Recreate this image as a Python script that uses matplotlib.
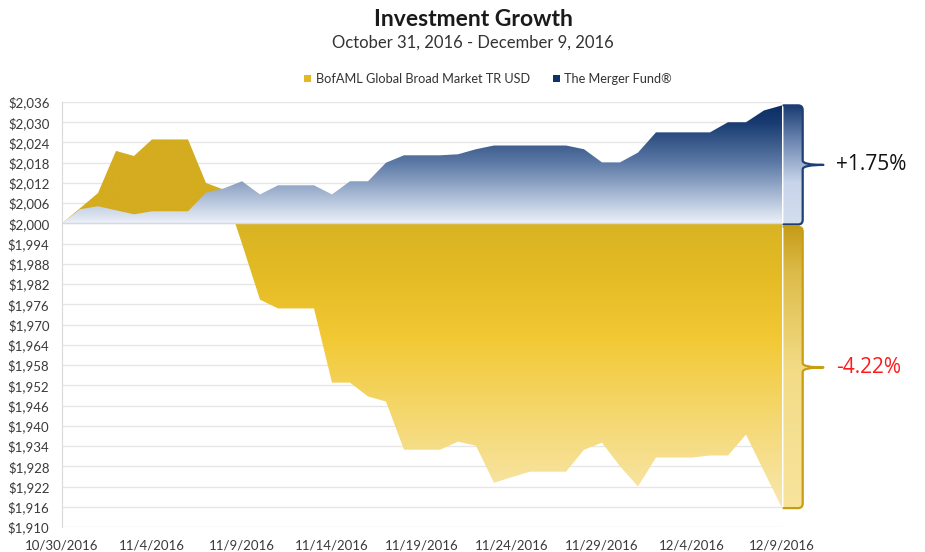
import numpy as np
import pandas as pd
import matplotlib
matplotlib.use('Agg')
import matplotlib.pyplot as plt
import matplotlib.dates as mdates
from matplotlib.path import Path
from matplotlib.patches import PathPatch, Patch
from matplotlib.colors import to_rgb

plt.rcParams['font.family'] = ['Lato', 'DejaVu Sans']

# daily values of a $2,000 investment
dates = pd.date_range('2016-10-30', '2016-12-09', freq='D')
bofaml = [2000, 2004.5, 2009, 2021.5, 2020, 2024.9, 2024.9, 2024.9, 2012, 2010,
          1994, 1977.4, 1974.8, 1974.8, 1974.8, 1952.8, 1952.8, 1948.7, 1947.2, 1932.9,
          1932.9, 1932.9, 1935.3, 1934.1, 1923.1, 1924.8, 1926.4, 1926.4, 1926.4, 1932.9,
          1935.0, 1928.0, 1922.0, 1930.6, 1930.6, 1930.6, 1931.2, 1931.2, 1937.4, 1926.5,
          1915.6]
merger = [2000, 2004.2, 2005.1, 2003.9, 2002.7, 2003.6, 2003.6, 2003.6, 2009.1, 2010.4,
          2012.5, 2008.6, 2011.3, 2011.3, 2011.3, 2008.6, 2012.5, 2012.5, 2018.0, 2020.2,
          2020.2, 2020.2, 2020.5, 2022.0, 2023.1, 2023.1, 2023.1, 2023.1, 2023.1, 2022.0,
          2018.1, 2018.1, 2021.0, 2027.0, 2027.0, 2027.0, 2027.0, 2030.0, 2030.0, 2033.5,
          2035.0]
series_names = ['BofAML Global Broad Market TR USD', 'The Merger Fund®']
start_value = 2000
y_ticks = np.arange(1910, 2037, 6)
x_tick_dates = dates[::5]

gold_stops = [(1910, '#F9EBB8'), (1916, '#F8E7AE'), (1940, '#F5D977'), (1966, '#F2C934'),
              (1985, '#E4BB25'), (2000, '#D8B322'), (2000.01, '#D4AC1F'), (2036, '#D4AC1F')]
blue_stops = [(2000, '#EEF2F9'), (2006, '#BCCAE0'), (2018, '#5D7AA6'), (2030, '#183B71'),
              (2036, '#0B2C63')]
gold_brace_stops = [(1910, '#F8E5A0'), (1957, '#F3DB86'), (1985, '#DDBC4A'), (2000, '#C49A14')]
blue_brace_stops = [(1999, '#D4DEEE'), (2012, '#C8D4EA'), (2024, '#6E88B2'), (2036, '#0F3269')]


def gradient(stops, ylo, yhi, n=500):
    ys = np.linspace(yhi, ylo, n)
    vals = [s[0] for s in stops]
    cols = np.array([to_rgb(s[1]) for s in stops])
    img = np.stack([np.interp(ys, vals, cols[:, k]) for k in range(3)], axis=-1)
    return img[:, None, :]


def gradient_area(ax, x, y, base, stops, ylim, z):
    verts = list(zip(x, y)) + [(x[-1], base), (x[0], base)]
    patch = PathPatch(Path(verts), facecolor='none', edgecolor='none')
    ax.add_patch(patch)
    im = ax.imshow(gradient(stops, *ylim), extent=[x[0], x[-1], ylim[0], ylim[1]],
                   aspect='auto', origin='upper', zorder=z, interpolation='bilinear')
    im.set_clip_path(patch)


fig = plt.figure(figsize=(9.25, 5.52), dpi=100)
L, B, W, H = 62 / 925, 25 / 552, 720 / 925, 425 / 552
ax = fig.add_axes([L, B, W, H])

x = mdates.date2num(dates)
ylim = (1910, 2036)
ax.set_xlim(x[0], x[-1])
ax.set_ylim(*ylim)

gradient_area(ax, x, bofaml, start_value, gold_stops, ylim, 2)
gradient_area(ax, x, merger, start_value, blue_stops, ylim, 3)
ax.axhline(start_value, color='#D5DAE2', lw=1, zorder=4)

ax.set_yticks(y_ticks)
ax.set_yticklabels([f'${v:,.0f}' for v in y_ticks])
ax.set_xticks(mdates.date2num(x_tick_dates))
ax.set_xticklabels([f'{d.month}/{d.day}/{d.year}' for d in x_tick_dates])
ax.grid(axis='y', color='#E6E6E6', lw=1)
ax.set_axisbelow(True)
ax.tick_params(axis='y', length=0, pad=9, labelsize=9.5, labelcolor='#3A3A3A')
ax.tick_params(axis='x', length=0, pad=9, labelsize=9.5, labelcolor='#3A3A3A')
for s in ['top', 'right', 'bottom']:
    ax.spines[s].set_visible(False)
ax.spines['left'].set_color('#D9D9D9')

# brace overlay, same scale as the main axes but wider
ax2 = fig.add_axes([L, B, (925 - 62) / 925, H], zorder=5)
ax2.axis('off')
ax2.patch.set_alpha(0)


def brace(axb, xs, top, bot, stops, edge, label, tcolor):
    x0, x1, xt = xs + 0.08, xs + 1.15, xs + 2.3
    rx, ry, dy = 0.25, 1.4, 1.3
    ym = (top + bot) / 2
    outline = [(x0, top), (x1 - rx, top), (x1, top), (x1, top - ry),
               (x1, ym + dy), (x1, ym), (xt, ym), (x1, ym), (x1, ym - dy),
               (x1, bot + ry), (x1, bot), (x1 - rx, bot), (x0, bot)]
    codes = [Path.MOVETO, Path.LINETO, Path.CURVE3, Path.CURVE3,
             Path.LINETO, Path.CURVE3, Path.CURVE3, Path.CURVE3, Path.CURVE3,
             Path.LINETO, Path.CURVE3, Path.CURVE3, Path.LINETO]
    fill = PathPatch(Path(outline + [(x0, top)], codes + [Path.LINETO]),
                     facecolor='none', edgecolor='none')
    axb.add_patch(fill)
    im = axb.imshow(gradient(stops, bot, top), extent=[x0, xt, bot, top],
                    aspect='auto', origin='upper', interpolation='bilinear')
    im.set_clip_path(fill)
    axb.add_patch(PathPatch(Path(outline, codes), facecolor='none', edgecolor=edge,
                            lw=1.6, capstyle='round', joinstyle='round'))
    axb.text(xs + 3.0, ym, label, ha='left', va='center', fontsize=15,
             color=tcolor, family=['Open Sans', 'DejaVu Sans'])


m_ret = (merger[-1] / start_value - 1) * 100
b_ret = (bofaml[-1] / start_value - 1) * 100
brace(ax2, x[-1], merger[-1], start_value - 0.3, blue_brace_stops, '#1E3E74',
      f'{m_ret:+.2f}%', '#111111')
brace(ax2, x[-1], start_value - 1.0, bofaml[-1], gold_brace_stops, '#C79E12',
      f'{b_ret:+.2f}%', '#FF1A1A')
ax2.set_xlim(x[0], x[0] + 40 * 863 / 720)
ax2.set_ylim(*ylim)

fig.text(473 / 925, 1 - 19 / 552, 'Investment Growth', ha='center', va='center',
         fontsize=16.5, fontweight='bold', color='#1A1A1A')
fig.text(473 / 925, 1 - 43 / 552, 'October 31, 2016 - December 9, 2016', ha='center',
         va='center', fontsize=12, color='#333333')

handles = [Patch(facecolor='#E2B824'), Patch(facecolor='#0F3269')]
fig.legend(handles, series_names, loc='center', bbox_to_anchor=(488 / 925, 1 - 79 / 552),
           ncol=2, frameon=False, fontsize=9.2, handlelength=0.55, handleheight=0.5,
           handletextpad=0.35, columnspacing=1.8, labelcolor='#333333')

fig.savefig('out.png', dpi=100)
